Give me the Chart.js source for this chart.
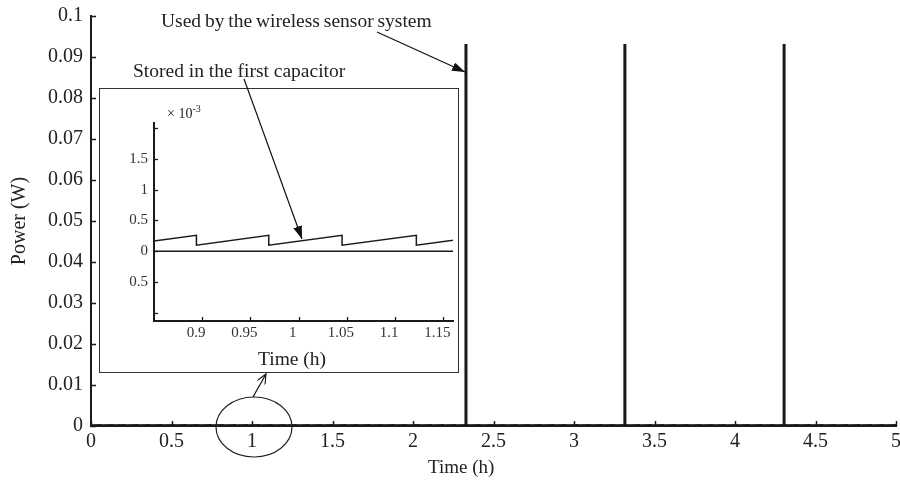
<!DOCTYPE html>
<html>
<head>
<meta charset="utf-8">
<script src="https://cdn.jsdelivr.net/npm/chart.js@4"></script>
<style>
  html, body { margin: 0; padding: 0; background: #fff; }
  #wrap { position: relative; width: 900px; height: 481px; overflow: hidden; font-family: 'Liberation Serif', 'Times New Roman', serif; color: #222; }
  #main { position: absolute; left: 0; top: 0; }
  #insetBox { position: absolute; left: 99px; top: 88px; width: 358px; height: 283px; border: 1px solid #333; background: #fff; }
  #inset { position: absolute; left: 0; top: 0; }
  .lbl { position: absolute; white-space: nowrap; line-height: 1; }
  #ann { position: absolute; left: 0; top: 0; pointer-events: none; }
</style>
</head>
<body>
<div id="wrap">
  <canvas id="main" width="900" height="481"></canvas>
  <div id="insetBox"><canvas id="inset" width="358" height="283"></canvas></div>

  <div class="lbl" style="left:161px;top:11px;font-size:19.5px;word-spacing:-1px">Used by the wireless sensor system</div>
  <div class="lbl" style="left:133px;top:61px;font-size:19.5px">Stored in the first capacitor</div>
  <div class="lbl" style="left:167px;top:104px;font-size:14px">&times; 10<sup style="font-size:10px">-3</sup></div>
  <div class="lbl" style="left:428px;top:457px;font-size:19px">Time (h)</div>
  <div class="lbl" style="left:258px;top:349px;font-size:19.5px">Time (h)</div>

  <svg id="ann" width="900" height="481">
    <defs>
      <marker id="headFill" markerWidth="13" markerHeight="9" refX="13" refY="4.5" orient="auto" markerUnits="userSpaceOnUse">
        <path d="M0,0 L13,4.5 L0,9 z" fill="#111"/>
      </marker>
      <marker id="headOpen" markerWidth="11" markerHeight="9" refX="10" refY="4.5" orient="auto" markerUnits="userSpaceOnUse">
        <path d="M0,0 L10,4.5 L0,9" fill="none" stroke="#111" stroke-width="1.1"/>
      </marker>
    </defs>
    <line x1="377" y1="32" x2="465" y2="72" stroke="#111" stroke-width="1.2" marker-end="url(#headFill)"/>
    <line x1="244" y1="79" x2="302" y2="239" stroke="#111" stroke-width="1.2" marker-end="url(#headFill)"/>
    <ellipse cx="254" cy="427" rx="38" ry="30" fill="none" stroke="#222" stroke-width="1.2"/>
    <line x1="253" y1="397" x2="266" y2="374" stroke="#111" stroke-width="1.2" marker-end="url(#headOpen)"/>
  </svg>
</div>

<script>
// ── Dados ──
// instantes (h) em que a tensão do capacitor cai (dente de serra)
const dropTimes = [
  0.058, 0.134, 0.210, 0.286, 0.362, 0.438, 0.514, 0.590, 0.666, 0.742,
  0.818, 0.894, 0.969, 1.045, 1.122, 1.198, 1.274, 1.350, 1.426, 1.502,
  1.578, 1.654, 1.730, 1.806, 1.882, 1.958, 2.034, 2.110, 2.186, 2.262,
  2.338, 2.414, 2.490, 2.566, 2.642, 2.718, 2.794, 2.870, 2.946, 3.022,
  3.098, 3.174, 3.250, 3.326, 3.402, 3.478, 3.554, 3.630, 3.706, 3.782,
  3.858, 3.934, 4.010, 4.086, 4.162, 4.238, 4.314, 4.390, 4.466, 4.542,
  4.618, 4.694, 4.770, 4.846, 4.922
];
const sawPeak   = 0.00026;  // W, logo antes da queda
const sawTrough = 0.00010;  // W, logo depois da queda
const sawStart  = [0, 0.00014];
const sawEnd    = [5, 0.00026];

// pulsos consumidos pelo sistema sem fio
const spikeTimes = [2.329, 3.316, 4.305];
const spikePeaks = [0.0932, 0.0932, 0.0932];

// ticks
const mainXTicks  = [0, 0.5, 1, 1.5, 2, 2.5, 3, 3.5, 4, 4.5, 5];
const mainXLabels = ['0', '0.5', '1', '1.5', '2', '2.5', '3', '3.5', '4', '4.5', '5'];
const mainYTicks  = [0, 0.01, 0.02, 0.03, 0.04, 0.05, 0.06, 0.07, 0.08, 0.09, 0.1];
const mainYLabels = ['0', '0.01', '0.02', '0.03', '0.04', '0.05', '0.06', '0.07', '0.08', '0.09', '0.1'];
const insetXTicks  = [0.9, 0.95, 1, 1.05, 1.1, 1.15];
const insetXLabels = ['0.9', '0.95', '1', '1.05', '1.1', '1.15'];
const insetYTicks  = [-0.001, -0.0005, 0, 0.0005, 0.001, 0.0015, 0.002];
const insetYLabels = ['', '0.5', '0', '0.5', '1', '1.5', ''];

const FONT = "'Liberation Serif', 'Times New Roman', serif";
const INK  = '#1a1a1a';

// ── Séries montadas a partir dos arrays ──
function buildStored() {
  const pts = [{ x: sawStart[0], y: sawStart[1] }];
  dropTimes.forEach(t => {
    pts.push({ x: t, y: sawPeak });
    pts.push({ x: t, y: sawTrough });
  });
  pts.push({ x: sawEnd[0], y: sawEnd[1] });
  return pts;
}
function buildUsed() {
  const pts = [{ x: 0, y: 0 }];
  spikeTimes.forEach((t, i) => {
    pts.push({ x: t, y: 0 });
    pts.push({ x: t, y: spikePeaks[i] });
    pts.push({ x: t, y: 0 });
  });
  pts.push({ x: 5, y: 0 });
  return pts;
}

// ── Ticks para dentro (estilo MATLAB) ──
const inwardTicks = {
  id: 'inwardTicks',
  afterDraw(chart, args, o) {
    const { ctx, chartArea: a, scales: { x, y } } = chart;
    ctx.save();
    ctx.strokeStyle = INK; ctx.lineWidth = o.width || 1.5;
    x.ticks.forEach(t => {
      const px = Math.round(x.getPixelForValue(t.value)) + 0.5;
      ctx.beginPath(); ctx.moveTo(px, a.bottom); ctx.lineTo(px, a.bottom - o.len); ctx.stroke();
    });
    y.ticks.forEach(t => {
      const py = Math.round(y.getPixelForValue(t.value)) + 0.5;
      ctx.beginPath(); ctx.moveTo(a.left, py); ctx.lineTo(a.left + o.len, py); ctx.stroke();
    });
    ctx.restore();
  }
};

function fixedTicks(vals) {
  return s => { s.ticks = vals.map(v => ({ value: v })); };
}

const noGrid = { display: false, drawTicks: false };

// ── Gráfico principal ──
new Chart(document.getElementById('main').getContext('2d'), {
  type: 'scatter',
  data: {
    datasets: [
      { label: 'Used', data: buildUsed(), showLine: true, pointRadius: 0, borderColor: INK, borderWidth: 3 },
      { label: 'Stored', data: buildStored(), showLine: true, pointRadius: 0, borderColor: INK, borderWidth: 2 }
    ]
  },
  plugins: [inwardTicks],
  options: {
    responsive: false, animation: false, devicePixelRatio: 1,
    layout: { padding: { top: 16, right: 4, left: 0, bottom: 0 } },
    plugins: { legend: { display: false }, tooltip: { enabled: false }, inwardTicks: { len: 5, width: 1.5 } },
    scales: {
      x: {
        type: 'linear', min: 0, max: 5,
        afterBuildTicks: fixedTicks(mainXTicks),
        afterFit(s) { s.height = 55; s.paddingLeft = 0; s.paddingRight = 0; },
        grid: noGrid,
        border: { color: INK, width: 2 },
        ticks: { color: '#222', font: { family: FONT, size: 20 }, padding: 4, maxRotation: 0, autoSkip: false,
                 callback: (v, i) => mainXLabels[i] }
      },
      y: {
        type: 'linear', min: 0, max: 0.1,
        afterBuildTicks: fixedTicks(mainYTicks),
        afterFit(s) { s.width = 91; s.paddingTop = 0; s.paddingBottom = 0; },
        grid: noGrid,
        border: { color: INK, width: 2 },
        title: { display: true, text: 'Power (W)', color: '#222', font: { family: FONT, size: 20 }, padding: { top: 8, bottom: 0 } },
        ticks: { color: '#222', font: { family: FONT, size: 20 }, padding: 8, autoSkip: false,
                 callback: (v, i) => mainYLabels[i] }
      }
    }
  }
});

// ── Detalhe (zoom em torno de t = 1 h) ──
new Chart(document.getElementById('inset').getContext('2d'), {
  type: 'scatter',
  data: {
    datasets: [
      { label: 'Used', data: buildUsed(), showLine: true, pointRadius: 0, borderColor: INK, borderWidth: 1.5 },
      { label: 'Stored', data: buildStored(), showLine: true, pointRadius: 0, borderColor: INK, borderWidth: 1.5 }
    ]
  },
  plugins: [inwardTicks],
  options: {
    responsive: false, animation: false, devicePixelRatio: 1,
    layout: { padding: { top: 34, right: 5, left: 0, bottom: 0 } },
    plugins: { legend: { display: false }, tooltip: { enabled: false }, inwardTicks: { len: 4, width: 1.3 } },
    scales: {
      x: {
        type: 'linear', min: 0.85, max: 1.16,
        afterBuildTicks: fixedTicks(insetXTicks),
        afterFit(s) { s.height = 51; s.paddingLeft = 0; s.paddingRight = 0; },
        grid: noGrid,
        border: { color: INK, width: 2 },
        ticks: { color: '#333', font: { family: FONT, size: 15 }, padding: 3, labelOffset: -6, maxRotation: 0, autoSkip: false,
                 callback: (v, i) => insetXLabels[i] }
      },
      y: {
        type: 'linear', min: -0.00113, max: 0.00208,
        afterBuildTicks: fixedTicks(insetYTicks),
        afterFit(s) { s.width = 54; s.paddingTop = 0; s.paddingBottom = 0; },
        grid: noGrid,
        border: { color: INK, width: 2 },
        ticks: { color: '#333', font: { family: FONT, size: 15 }, padding: 6, autoSkip: false,
                 callback: (v, i) => insetYLabels[i] }
      }
    }
  }
});
</script>
</body>
</html>
